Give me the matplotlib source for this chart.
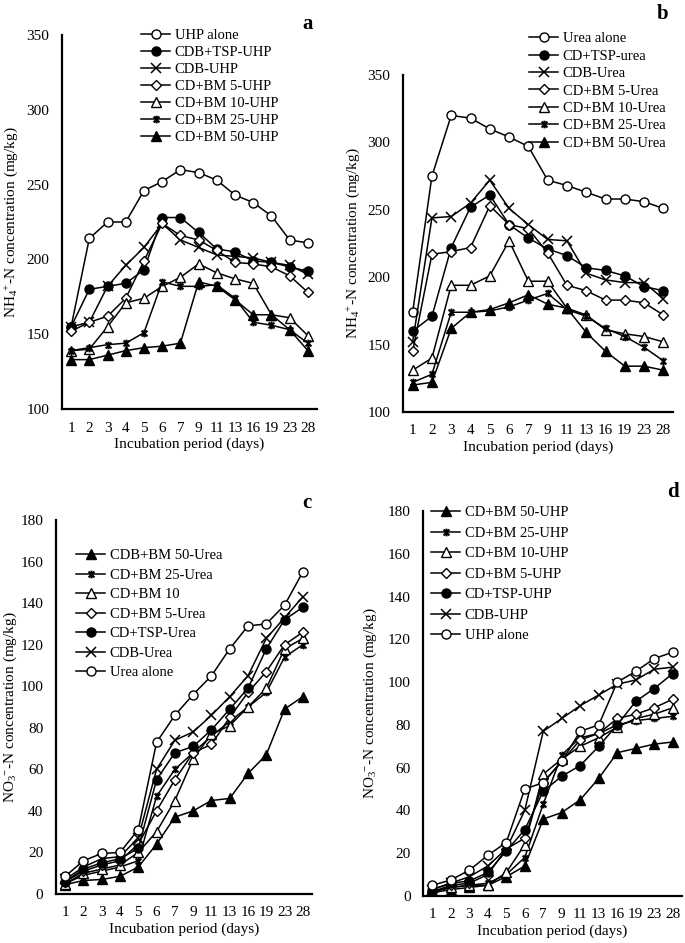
import matplotlib
matplotlib.use("Agg")
import matplotlib.pyplot as plt
from matplotlib.path import Path
import numpy as np

plt.rcParams['font.family'] = ['Liberation Serif', 'DejaVu Serif']
plt.rcParams['mathtext.fontset'] = 'custom'
plt.rcParams['mathtext.rm'] = 'Liberation Serif'
plt.rcParams['mathtext.it'] = 'Liberation Serif'

days = ['1', '2', '3', '4', '5', '6', '7', '9', '11', '13', '16', '19', '23', '28']

# panel a: NH4+-N, UHP
a_labels = ['UHP alone', 'CDB+TSP-UHP', 'CDB-UHP', 'CD+BM 5-UHP',
            'CD+BM 10-UHP', 'CD+BM 25-UHP', 'CD+BM 50-UHP']
a_uhp = [155, 214, 225, 225, 246, 252, 260, 258, 253, 243, 238, 229, 213, 211]
a_tsp = [155, 180, 182, 184, 193, 228, 228, 218, 207, 205, 199, 198, 195, 192]
a_cdb = [155, 158, 182, 196, 208, 224, 213, 208, 203, 202, 201, 198, 196, 190]
a_bm5 = [152, 158, 162, 174, 199, 224, 216, 213, 206, 198, 197, 195, 189, 178]
a_bm10 = [139, 140, 155, 171, 174, 182, 188, 197, 191, 187, 184, 163, 161, 149]
a_bm25 = [139, 141, 143, 144, 151, 185, 182, 182, 183, 174, 158, 156, 153, 144]
a_bm50 = [133, 133, 136, 139, 141, 142, 144, 185, 182, 173, 163, 163, 153, 139]

# panel b: NH4+-N, urea
b_labels = ['Urea alone', 'CD+TSP-urea', 'CDB-Urea', 'CD+BM 5-Urea',
            'CD+BM 10-Urea', 'CD+BM 25-Urea', 'CD+BM 50-Urea']
b_urea = [174, 275, 320, 318, 310, 304, 297, 272, 268, 263, 258, 258, 256, 251]
b_tsp = [160, 171, 222, 252, 261, 239, 229, 221, 216, 207, 205, 201, 193, 190]
b_cdb = [152, 244, 245, 255, 272, 251, 239, 228, 227, 203, 198, 196, 196, 184]
b_bm5 = [145, 217, 219, 222, 253, 239, 236, 218, 194, 190, 183, 183, 181, 172]
b_bm10 = [131, 140, 194, 194, 201, 227, 197, 197, 177, 172, 161, 158, 156, 152]
b_bm25 = [122, 128, 174, 174, 175, 178, 183, 188, 176, 171, 162, 156, 148, 138]
b_bm50 = [120, 122, 162, 174, 176, 181, 187, 180, 177, 159, 145, 134, 134, 131]

# panel c: NO3--N, urea
c_labels = ['CDB+BM 50-Urea', 'CD+BM 25-Urea', 'CD+BM 10', 'CD+BM 5-Urea',
            'CD+TSP-Urea', 'CDB-Urea', 'Urea alone']
c_bm50 = [4.5, 6.5, 7, 8.5, 13, 24, 37, 40, 45, 46, 58, 67, 89, 95]
c_bm25 = [5, 9, 11, 13, 16, 47, 60, 68, 76, 83, 90, 97, 114, 120]
c_bm10 = [5, 10, 12, 14, 20, 30, 45, 65, 77, 81, 90, 99, 118, 123]
c_bm5 = [6, 11, 14, 16, 24, 40, 55, 68, 72, 85, 97, 107, 120, 126]
c_tsp = [6, 12, 15, 17, 22, 55, 68, 71, 79, 89, 99, 118, 132, 138]
c_cdb = [7, 13, 17, 18, 27, 60, 74, 78, 86, 95, 105, 123, 133, 143]
c_urea = [8.5, 16, 19.5, 20, 31, 73, 86, 96, 105, 118, 129, 130, 139, 155]

# panel d: NO3--N, UHP
d_labels = ['CD+BM 50-UHP', 'CD+BM 25-UHP', 'CD+BM 10-UHP', 'CD+BM 5-UHP',
            'CD+TSP-UHP', 'CDB-UHP', 'UHP alone']
d_bm50 = [1.5, 3, 4, 5, 9, 14, 36, 39, 45, 55, 67, 69, 71, 72]
d_bm25 = [2, 4, 5, 6, 10, 18, 43, 66, 74, 76, 80, 82, 83, 84]
d_bm10 = [2, 4, 5, 5, 11, 24, 57, 64, 70, 74, 79, 83, 85, 88]
d_bm5 = [2, 5, 6, 10, 22, 27, 53, 63, 73, 76, 83, 85, 88, 92]
d_tsp = [3, 6, 7, 11, 21, 31, 49, 56, 61, 70, 80, 91, 97, 104]
d_cdb = [3, 6, 9, 14, 22, 40, 77, 83, 89, 94, 99, 101, 106, 107]
d_uhp = [5, 7.5, 12, 19, 25, 50, 53, 63, 77, 80, 100, 105, 111, 114]

star = Path([(-1, -1), (1, 1), (-1, 1), (1, -1), (0, -1.3), (0, 1.3)],
            [Path.MOVETO, Path.LINETO, Path.MOVETO, Path.LINETO,
             Path.MOVETO, Path.LINETO])

styles = {
    'alone': dict(marker='o', mfc='white', ms=6.5),
    'tsp': dict(marker='o', mfc='black', ms=6.5),
    'cdb': dict(marker='x', mfc='black', ms=6.5, mew=1.1),
    'bm5': dict(marker='D', mfc='white', ms=4.8),
    'bm10': dict(marker='^', mfc='white', ms=6.5),
    'bm25': dict(marker=star, mfc='black', ms=5.5, mew=1.5),
    'bm50': dict(marker='^', mfc='black', ms=6.5),
}

W, H = 685, 943
fig = plt.figure(figsize=(W / 100, H / 100), dpi=100)


def panel(px, ylim, yticks, series, labels, ylabel, letter, legend_xy, letter_xy,
          ylabel_x, spacing):
    l, r, t, b = px
    ax = fig.add_axes([l / W, 1 - b / H, (r - l) / W, (b - t) / H])
    x = np.arange(len(days))
    lines = []
    for key, vals in series:
        st = styles[key]
        ln, = ax.plot(x, vals, color='black', lw=1.1, mec='black', **st)
        lines.append(ln)
    ax.set_xlim(-0.5, len(days) - 0.5)
    ax.set_ylim(*ylim)
    ax.set_yticks(yticks)
    ax.set_xticks(x)
    ax.set_xticklabels(days)
    ax.tick_params(length=0, labelsize=11, pad=9)
    ax.tick_params(axis='y', pad=9)
    for s in ['top', 'right']:
        ax.spines[s].set_visible(False)
    for s in ['left', 'bottom']:
        ax.spines[s].set_linewidth(1.6)
    ax.set_xlabel('Incubation period (days)', fontsize=11, labelpad=2)
    ax.set_ylabel(ylabel, fontsize=11)
    ax.yaxis.set_label_coords((ylabel_x - l) / (r - l), 0.5)
    fig.text(letter_xy[0] / W, 1 - letter_xy[1] / H, letter, fontsize=15,
             fontweight='bold', ha='center', va='center')
    fig.legend(lines, labels, loc='upper left',
               bbox_to_anchor=(legend_xy[0] / W, 1 - legend_xy[1] / H),
               frameon=False, fontsize=10.5, handlelength=2.0,
               handletextpad=0.3, labelspacing=spacing, borderpad=0,
               borderaxespad=0)
    return ax


panel((62, 317, 35, 409), (100, 350), range(100, 351, 50),
      [('alone', a_uhp), ('tsp', a_tsp), ('cdb', a_cdb), ('bm5', a_bm5),
       ('bm10', a_bm10), ('bm25', a_bm25), ('bm50', a_bm50)],
      a_labels, 'NH$_4$$^{+}$-N concentration (mg/kg)', 'a',
      (141, 29), (308, 24), 20, 0.26)

panel((403, 673, 75, 412), (100, 350), range(100, 351, 50),
      [('alone', b_urea), ('tsp', b_tsp), ('cdb', b_cdb), ('bm5', b_bm5),
       ('bm10', b_bm10), ('bm25', b_bm25), ('bm50', b_bm50)],
      b_labels, 'NH$_4$$^{+}$-N concentration (mg/kg)', 'b',
      (529, 32), (663, 14), 362, 0.29)

panel((56, 312, 520, 894), (0, 180), range(0, 181, 20),
      [('bm50', c_bm50), ('bm25', c_bm25), ('bm10', c_bm10), ('bm5', c_bm5),
       ('tsp', c_tsp), ('cdb', c_cdb), ('alone', c_urea)],
      c_labels, 'NO$_3$$^{-}$-N concentration (mg/kg)', 'c',
      (76, 549), (307, 503), 19, 0.43)

panel((423, 682, 511, 896), (0, 180), range(0, 181, 20),
      [('bm50', d_bm50), ('bm25', d_bm25), ('bm10', d_bm10), ('bm5', d_bm5),
       ('tsp', d_tsp), ('cdb', d_cdb), ('alone', d_uhp)],
      d_labels, 'NO$_3$$^{-}$-N concentration (mg/kg)', 'd',
      (431, 506), (673, 492), 379, 0.5)

fig.savefig('out.png', dpi=100)
